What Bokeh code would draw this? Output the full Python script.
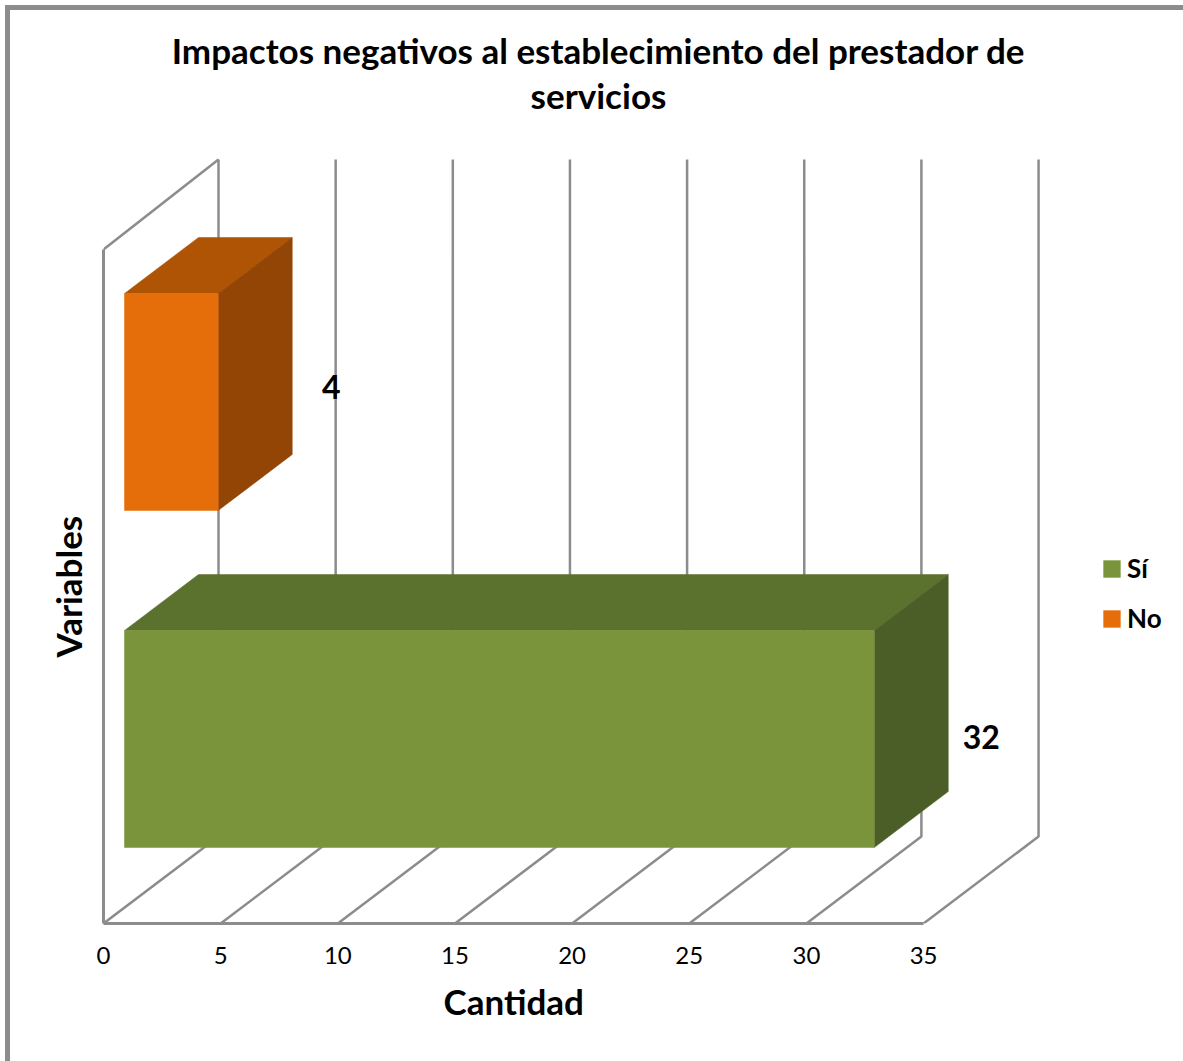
from bokeh.plotting import figure
from bokeh.models import Range1d, LinearAxis, FixedTicker, Title, Legend, LegendItem
from bokeh.core.properties import value
from bokeh.embed import file_html
from bokeh.resources import INLINE

# ---- data ----
categories = ["Sí", "No"]
cantidad = [32, 4]
tick_values = [0, 5, 10, 15, 20, 25, 30, 35]
title_lines = ["Impactos negativos al establecimiento del prestador de", "servicios"]
x_title = "Cantidad"
y_title = "Variables"
face_colors = ["#7A943B", "#E66E0A"]
top_colors = ["#5B712E", "#AF5305"]
side_colors = ["#4C5E27", "#924504"]

# ---- layout (x in data units, y in height units above the floor's front edge) ----
FONT = "Lato"
GRID = "#8C8C8C"
U = 23.43
WALL_DX, WALL_DY = 115 / U, 87
WALL_H = 674
WALL_BACK_TOP = 764
BAR_X0 = 21 / U
BAR_DX, BAR_DY = 74 / U, 56
BAR_H = 217
bar_bottoms = [76, 413]
label_dx = [107 / U, 113 / U]
label_y = [187, 537]

p = figure(width=1173, height=1051, output_backend="svg", toolbar_location=None,
           frame_width=990, frame_height=773,
           x_range=Range1d(0, 990 / U), y_range=Range1d(0, 773),
           x_axis_type=None, y_axis_type=None,
           min_border_left=93, min_border_right=90, min_border_top=140, min_border_bottom=138,
           margin=(10, 0, 0, 10), outline_line_color=None,
           styles={"box-shadow": "-5px -5px 0 0 #8C8C8C, 12px -5px 0 0 #8C8C8C, -5px 12px 0 0 #8C8C8C"})
p.grid.visible = False
p.title = None

# blank spacer title between the frame and the chart title
p.add_layout(Title(text=" ", text_font=FONT, text_font_size="12px", standoff=0), "above")
p.add_layout(Title(text="\n".join(title_lines), align="center", text_align="center",
                   text_font=FONT, text_font_style="bold", text_line_height=1.08,
                   text_font_size="35px", text_color="black", standoff=34), "above")

xax = LinearAxis(ticker=FixedTicker(ticks=tick_values), bounds=(0, 35),
                 axis_line_color=GRID, axis_line_width=3,
                 major_tick_line_color=None, minor_tick_line_color=None,
                 major_label_text_font=FONT, major_label_text_font_size="24px", major_label_text_color="black",
                 major_label_standoff=17)
p.add_layout(xax, "below")
yax = LinearAxis(ticker=FixedTicker(ticks=[]), bounds=(0, WALL_H),
                 axis_line_color=GRID, axis_line_width=3,
                 major_tick_line_color=None, minor_tick_line_color=None,
                 major_label_text_color=None)
p.add_layout(yax, "left")

# axis titles, placed along the front plane of the box
p.add_layout(Title(text=x_title, align="left", offset=340, standoff=22, text_font=FONT, text_font_style="bold",
                   text_font_size="35px", text_color="black"), "below")
p.add_layout(Title(text=y_title, align="left", offset=266, standoff=30, text_font=FONT, text_font_style="bold",
                   text_font_size="35px", text_color="black"), "left")

# walls and gridlines
gx, gy = [], []
for t in tick_values:
    gx.append([t, t + WALL_DX, t + WALL_DX])
    gy.append([0, WALL_DY, WALL_BACK_TOP])
gx.append([0, WALL_DX])
gy.append([WALL_H, WALL_BACK_TOP])
p.multi_line(gx, gy, line_color=GRID, line_width=2.5)

# bars
faces = []
for v, b, fc, tc, sc in zip(cantidad, bar_bottoms, face_colors, top_colors, side_colors):
    x0, x1 = BAR_X0, BAR_X0 + v
    p.patch([x0, x1, x1 + BAR_DX, x0 + BAR_DX], [b + BAR_H, b + BAR_H, b + BAR_H + BAR_DY, b + BAR_H + BAR_DY],
            fill_color=tc, line_color=tc, line_width=0.5)
    p.patch([x1, x1 + BAR_DX, x1 + BAR_DX, x1], [b, b + BAR_DY, b + BAR_H + BAR_DY, b + BAR_H],
            fill_color=sc, line_color=sc, line_width=0.5)
    faces.append(p.quad(left=x0, right=x1, bottom=b, top=b + BAR_H, fill_color=fc, line_color=fc, line_width=0.5))

# value labels
p.text(x=[BAR_X0 + v + d for v, d in zip(cantidad, label_dx)], y=label_y, text=[str(v) for v in cantidad],
       text_font=value(FONT), text_font_style="bold", text_font_size="32px", text_color="black",
       text_align="center", text_baseline="middle")

legend = Legend(items=[LegendItem(label=c, renderers=[r]) for c, r in zip(categories, faces)],
                location=(8, 289), orientation="vertical", margin=0, padding=0, spacing=18,
                glyph_width=21, glyph_height=21, label_height=17, label_standoff=5,
                border_line_color=None, background_fill_alpha=0,
                label_text_font=FONT, label_text_font_style="bold", label_text_font_size="26px",
                label_text_color="black", label_text_baseline="middle")
p.add_layout(legend, "right")

open("out.html", "w").write(file_html(p, INLINE))
